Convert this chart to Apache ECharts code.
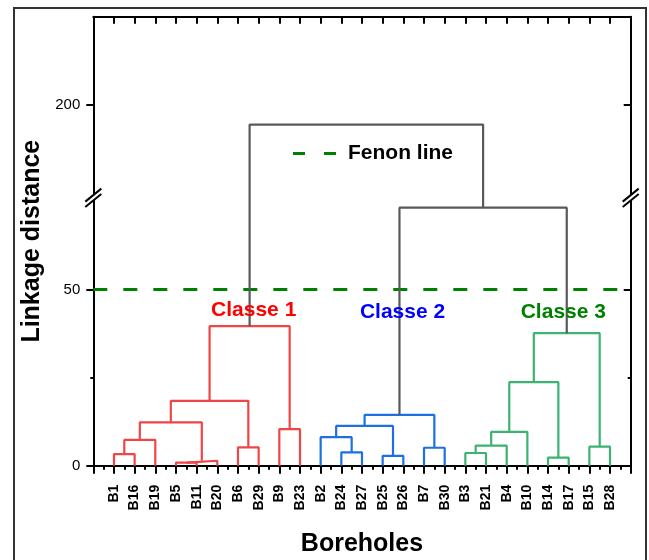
<!DOCTYPE html>
<html><head><meta charset="utf-8">
<script src="https://cdn.jsdelivr.net/npm/echarts@6/dist/echarts.min.js"></script>
<style>html,body{margin:0;padding:0;background:#fff}#c{width:649px;height:560px}</style>
</head><body><div id="c"></div>
<script>
// ---------- data ----------
const leaves = ['B1','B16','B19','B5','B11','B20','B6','B29','B9','B23','B2','B24','B27','B25','B26','B7','B30','B3','B21','B4','B10','B14','B17','B15','B28'];
// merges: [left child, right child, linkage distance, group]; 'mN' refers to merge N
const merges = [
  ['B1','B16',3.3,'c1'],   // m0
  ['m0','B19',7.3,'c1'],   // m1
  ['B5','B11',0.9,'c1'],   // m2
  ['m2','B20',1.4,'c1'],   // m3
  ['m1','m3',12.3,'c1'],   // m4
  ['B6','B29',5.2,'c1'],   // m5
  ['m4','m5',18.4,'c1'],   // m6
  ['B9','B23',10.4,'c1'],  // m7
  ['m6','m7',39.6,'c1'],   // m8
  ['B24','B27',3.8,'c2'],  // m9
  ['B2','m9',8.1,'c2'],    // m10
  ['B25','B26',2.8,'c2'],  // m11
  ['m10','m11',11.3,'c2'], // m12
  ['B7','B30',5.1,'c2'],   // m13
  ['m12','m13',14.4,'c2'], // m14
  ['B3','B21',3.6,'c3'],   // m15
  ['m15','B4',5.7,'c3'],   // m16
  ['m16','B10',9.6,'c3'],  // m17
  ['B14','B17',2.3,'c3'],  // m18
  ['m17','m18',23.7,'c3'], // m19
  ['B15','B28',5.4,'c3'],  // m20
  ['m19','m20',37.6,'c3'], // m21
  ['m14','m21',73.2,'root'], // m22
  ['m8','m22',194.4,'root']  // m23
];
const fenonLevel = 50;
const yTickValues = [0, 50, 200];
const yMinorValues = [25];
const classLabels = ['Classe 1', 'Classe 2', 'Classe 3'];
const BREAK_LO = 76, BREAK_HI = 173.6, Y_MAX = 225;

// ---------- styling / layout ----------
const FONT = 'Liberation Sans, Arial, Helvetica, sans-serif';
const groupColors = { c1: '#ef4545', c2: '#1d6fe2', c3: '#3cb371', root: '#595959' };
const classColors = ['#ff0000', '#0000ff', '#008000'];
const classPos = [[7.76, 44.0], [14.96, 43.5], [22.74, 43.5]];

const GAP = BREAK_HI - BREAK_LO;
const tY = v => (v <= BREAK_LO ? v : v - GAP);
const invY = d => (d <= BREAK_LO ? d : d + GAP);
const X_MIN = 0, X_MAX = leaves.length + 1;

// node positions
const nodePos = {};
leaves.forEach((n, i) => { nodePos[n] = [i + 1, 0]; });
const series = [];
merges.forEach((m, i) => {
  const a = nodePos[m[0]], b = nodePos[m[1]], h = m[2];
  nodePos['m' + i] = [(a[0] + b[0]) / 2, h];
  series.push({
    type: 'line', silent: true, symbol: 'none', animation: false, z: 5,
    lineStyle: { color: groupColors[m[3]], width: 2.2 },
    data: [[a[0], tY(a[1])], [a[0], tY(h)], [b[0], tY(h)], [b[0], tY(b[1])]]
  });
});
series.push({
  name: 'Fenon line', type: 'line', symbol: 'none', animation: false, z: 3,
  lineStyle: { color: '#008000', width: 3, type: [14, 16] },
  itemStyle: { color: '#008000' },
  data: [[X_MIN, tY(fenonLevel)], [X_MAX, tY(fenonLevel)]]
});
series.push({
  type: 'scatter', symbolSize: 0, animation: false, silent: true, z: 6,
  itemStyle: { color: '#fff', opacity: 1 },
  data: classLabels.map((t, i) => ({
    value: classPos[i],
    label: { show: true, position: 'inside', formatter: t, color: classColors[i], opacity: 1,
      textBorderWidth: 0, textBorderColor: 'transparent',
      fontFamily: FONT, fontWeight: 'bold', fontSize: 21 }
  }))
});

const DMAX = tY(Y_MAX);
const baseY = { type: 'value', min: 0, max: DMAX, splitLine: { show: false } };
const axLine = { show: true, onZero: false, lineStyle: { color: '#000', width: 2 } };
const chart = echarts.init(document.getElementById('c'), null, { renderer: 'canvas' });
chart.setOption({
  animation: false,
  backgroundColor: '#fff',
  grid: { left: 93.3, right: 18.3, top: 16.7, bottom: 94.3, containLabel: false, outerBoundsMode: 'none' },
  legend: {
    data: [{ name: 'Fenon line', icon: 'path://M0,0L12,0L12,3L0,3Z M31,0L43,0L43,3L31,3Z' }],
    left: 288, top: 138, itemWidth: 43, itemHeight: 3,
    selectedMode: false,
    textStyle: { fontFamily: FONT, fontWeight: 'bold', fontSize: 21, color: '#000', padding: [0, 0, 0, 7] }
  },
  xAxis: [
    {
      type: 'value', min: X_MIN, max: X_MAX, interval: 1, position: 'bottom',
      name: 'Boreholes', nameLocation: 'middle', nameGap: 66,
      nameTextStyle: { fontFamily: FONT, fontWeight: 'bold', fontSize: 25, color: '#000' },
      axisLine: axLine,
      axisTick: { show: true, inside: false, length: 8, lineStyle: { color: '#000', width: 2 } },
      minorTick: { show: true, splitNumber: 2, length: 4, lineStyle: { color: '#000', width: 2 } },
      axisLabel: {
        rotate: 90, margin: 19, fontFamily: FONT, fontWeight: 'bold', fontSize: 14, color: '#000',
        formatter: v => (v >= 1 && v <= leaves.length ? leaves[v - 1] : '')
      },
      splitLine: { show: false }
    },
    {
      type: 'value', min: X_MIN, max: X_MAX, interval: 1, position: 'top',
      axisLine: axLine,
      axisTick: { show: true, inside: true, length: 7, lineStyle: { color: '#000', width: 2 } },
      axisLabel: { show: false }, splitLine: { show: false }
    }
  ],
  yAxis: [
    Object.assign({}, baseY, {
      position: 'left',
      name: 'Linkage distance', nameLocation: 'middle', nameGap: 49,
      nameTextStyle: { fontFamily: FONT, fontWeight: 'bold', fontSize: 25, color: '#000' },
      axisLine: axLine,
      axisTick: { show: true, inside: false, length: 7, customValues: yTickValues.map(tY), lineStyle: { color: '#000', width: 2 } },
      axisLabel: { show: true, margin: 13, customValues: yTickValues.map(tY), fontFamily: FONT, fontSize: 15, color: '#000',
        formatter: v => String(Math.round(invY(v))) }
    }),
    Object.assign({}, baseY, {
      position: 'right',
      axisLine: axLine,
      axisTick: { show: true, inside: true, length: 7, customValues: yTickValues.map(tY), lineStyle: { color: '#000', width: 2 } },
      axisLabel: { show: false }
    }),
    Object.assign({}, baseY, {
      position: 'left',
      axisLine: { show: false, onZero: false },
      axisTick: { show: true, inside: false, length: 3, customValues: yMinorValues.map(tY), lineStyle: { color: '#000', width: 2 } },
      axisLabel: { show: false }
    }),
    Object.assign({}, baseY, {
      position: 'right',
      axisLine: { show: false, onZero: false },
      axisTick: { show: true, inside: true, length: 3, customValues: yMinorValues.map(tY), lineStyle: { color: '#000', width: 2 } },
      axisLabel: { show: false }
    })
  ],
  series: series
});

// break marks on the axis lines, positioned through the axes
const yb = chart.convertToPixel({ yAxisIndex: 0 }, tY(BREAK_LO));
const xs = [chart.convertToPixel({ xAxisIndex: 0 }, X_MIN), chart.convertToPixel({ xAxisIndex: 0 }, X_MAX)];
const g = [];
xs.forEach(x => {
  const c1 = yb - 2.7, c2 = yb + 2.7, w = 8, d = 6.5;
  g.push({ type: 'polygon', z: 100, shape: { points: [[x - w, c1 + d], [x + w, c1 - d], [x + w, c2 - d], [x - w, c2 + d]] }, style: { fill: '#fff' } });
  g.push({ type: 'line', z: 101, shape: { x1: x - w, y1: c1 + d, x2: x + w, y2: c1 - d }, style: { stroke: '#000', lineWidth: 2 } });
  g.push({ type: 'line', z: 101, shape: { x1: x - w, y1: c2 + d, x2: x + w, y2: c2 - d }, style: { stroke: '#000', lineWidth: 2 } });
});
g.push({ type: 'rect', z: 0, shape: { x: 14, y: 8, width: 632, height: 600 }, style: { fill: 'none', stroke: '#333', lineWidth: 2 } });
chart.setOption({ graphic: g });
</script>
</body></html>
